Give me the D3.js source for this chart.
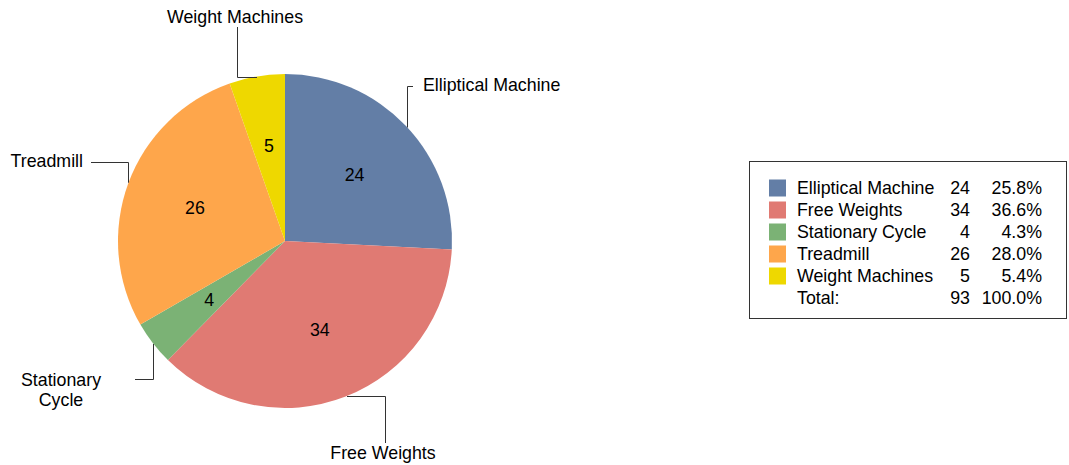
<!DOCTYPE html>
<html><head><meta charset="utf-8">
<script src="https://cdn.jsdelivr.net/npm/d3@7/dist/d3.min.js"></script>
<style>body{margin:0;background:#fff}svg{display:block}text{font-family:"Liberation Sans",Arial,sans-serif;fill:#000}</style>
</head><body>
<svg id="c" width="1069" height="465"></svg>
<script>
const categories = ["Elliptical Machine","Free Weights","Stationary Cycle","Treadmill","Weight Machines"];
const values = [24,34,4,26,5];
const colors = ["#637ea6","#e07a73","#7bb275","#fea64b","#eed800"];
const percentLabels = ["25.8%","36.6%","4.3%","28.0%","5.4%"];
const totalLabel = "Total:";
const totalValue = 93;
const totalPercent = "100.0%";

const svg = d3.select("#c");
const cx = 285, cy = 241, R = 167;
const fs = 17.8;
const data = categories.map((c,i)=>({name:c,value:values[i],color:colors[i],pct:percentLabels[i]}));
const pie = d3.pie().value(d=>d.value).sort(null);
const arcs = pie(data);
const arc = d3.arc().innerRadius(0).outerRadius(R);
const g = svg.append("g").attr("transform",`translate(${cx},${cy})`);
g.selectAll("path").data(arcs).join("path").attr("d",arc).attr("fill",d=>d.data.color);
const labelArc = d3.arc().innerRadius(96).outerRadius(96);
g.selectAll("text.v").data(arcs).join("text").attr("class","v")
  .attr("x",d=>labelArc.centroid(d)[0]).attr("y",d=>labelArc.centroid(d)[1])
  .attr("text-anchor","middle").attr("dominant-baseline","central")
  .style("font-size",fs+"px").text(d=>d.data.value);

const lines = svg.append("g").attr("fill","none").attr("stroke","#333").attr("stroke-width",1);
const lab = svg.append("g").style("font-size",fs+"px");
const topY = x=>cy-Math.sqrt(R*R-(x-cx)*(x-cx));
const botY = x=>cy+Math.sqrt(R*R-(x-cx)*(x-cx));
// Elliptical Machine: vertical up then right
{const x=407.5;
 lines.append("path").attr("d",`M${x},${topY(x)}V86.5H413`);
 lab.append("text").attr("x",423).attr("y",85).attr("dominant-baseline","central").text(categories[0]);}
// Free Weights: right then down
{lines.append("path").attr("d",`M347,396.5H385.5V443`);
 lab.append("text").attr("x",383).attr("y",453).attr("text-anchor","middle").attr("dominant-baseline","central").text(categories[1]);}
// Stationary Cycle: down then left
{const x=153.5;
 lines.append("path").attr("d",`M${x},${botY(x)}V379.5H135`);
 const t=lab.append("text").attr("text-anchor","middle");
 t.append("tspan").attr("x",61).attr("y",380).attr("dominant-baseline","central").text("Stationary");
 t.append("tspan").attr("x",61).attr("y",400).attr("dominant-baseline","central").text("Cycle");}
// Treadmill: up then left
{const x=128.5;
 lines.append("path").attr("d",`M${x},${topY(x)}V162.5H91`);
 lab.append("text").attr("x",83).attr("y",161).attr("text-anchor","end").attr("dominant-baseline","central").text(categories[3]);}
// Weight Machines: left then up
{lines.append("path").attr("d",`M257,77.5H237.5V27`);
 lab.append("text").attr("x",235).attr("y",17).attr("text-anchor","middle").attr("dominant-baseline","central").text(categories[4]);}

// legend
const lg = svg.append("g");
lg.append("rect").attr("x",749.5).attr("y",161.5).attr("width",317).attr("height",157).attr("fill","#fff").attr("stroke","#333");
const rowY = i=>188+i*22;
data.forEach((d,i)=>{
  lg.append("rect").attr("x",769).attr("y",rowY(i)-8.5).attr("width",17).attr("height",17).attr("fill",d.color);
  lg.append("text").attr("x",797).attr("y",rowY(i)).attr("dominant-baseline","central").style("font-size",fs+"px").text(d.name);
  lg.append("text").attr("x",970).attr("y",rowY(i)).attr("text-anchor","end").attr("dominant-baseline","central").style("font-size",fs+"px").text(d.value);
  lg.append("text").attr("x",1042).attr("y",rowY(i)).attr("text-anchor","end").attr("dominant-baseline","central").style("font-size",fs+"px").text(d.pct);
});
const ty = rowY(data.length);
lg.append("text").attr("x",797).attr("y",ty).attr("dominant-baseline","central").style("font-size",fs+"px").text(totalLabel);
lg.append("text").attr("x",970).attr("y",ty).attr("text-anchor","end").attr("dominant-baseline","central").style("font-size",fs+"px").text(totalValue);
lg.append("text").attr("x",1042).attr("y",ty).attr("text-anchor","end").attr("dominant-baseline","central").style("font-size",fs+"px").text(totalPercent);
</script>
</body></html>
